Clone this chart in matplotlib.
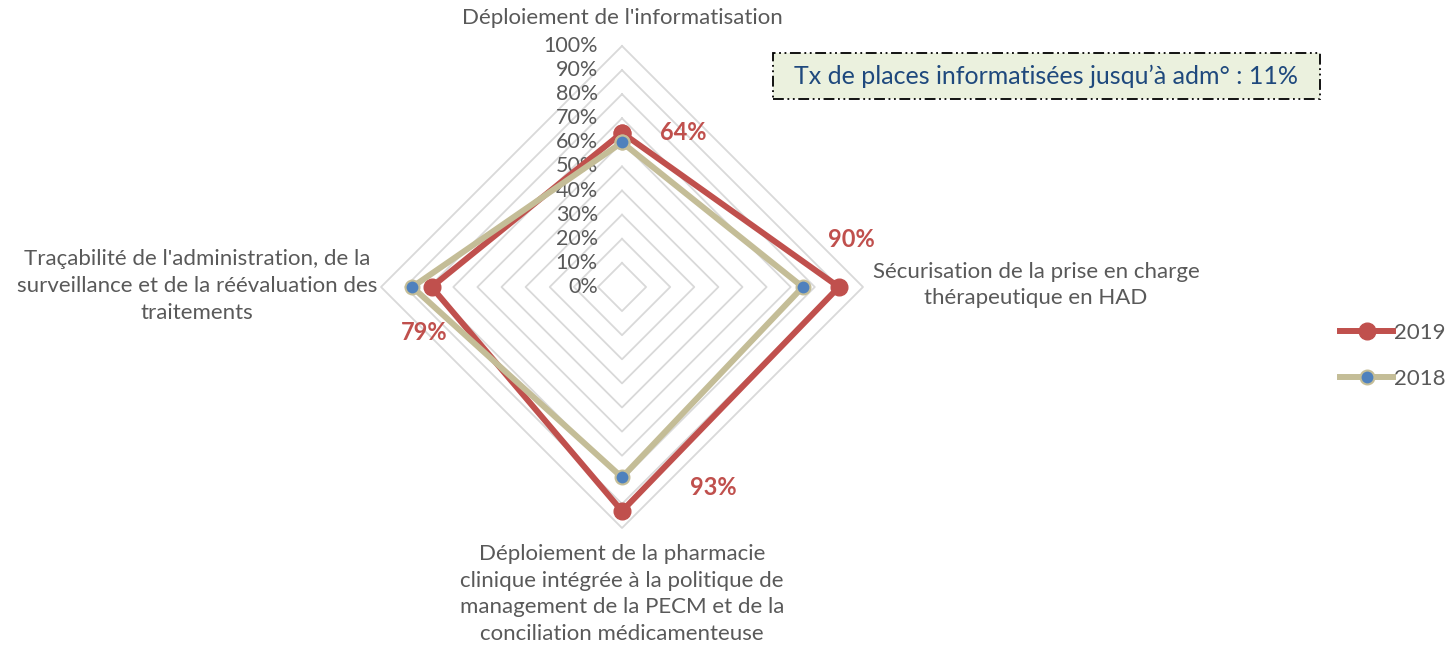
import numpy as np
import matplotlib.pyplot as plt
from matplotlib.patches import FancyBboxPatch

plt.rcParams['font.family'] = ['Lato', 'DejaVu Sans']

categories = [
    "Déploiement de l'informatisation",
    "Sécurisation de la prise en charge\nthérapeutique en HAD",
    "Déploiement de la pharmacie\nclinique intégrée à la politique de\nmanagement de la PECM et de la\nconciliation médicamenteuse",
    "Traçabilité de l'administration, de la\nsurveillance et de la réévaluation des\ntraitements",
]
values_2019 = [0.64, 0.90, 0.93, 0.79]
values_2018 = [0.60, 0.75, 0.79, 0.87]
ticks = [0.0, 0.1, 0.2, 0.3, 0.4, 0.5, 0.6, 0.7, 0.8, 0.9, 1.0]
note = "Tx de places informatisées jusqu’à adm° : 11%"

RED = '#C0504D'
TAN = '#C4BD97'
BLUE = '#4F81BD'
GREY = '#595959'
GRID = '#D9D9D9'

W, H = 1452, 651
fig = plt.figure(figsize=(W / 100, H / 100), dpi=100)

# square axes centred on the radar centre
cx, cy, R = 622, 287, 241
half = 1.1 * R
ax = fig.add_axes([(cx - half) / W, (H - cy - half) / H, 2 * half / W, 2 * half / H])
ax.set_xlim(-1.1, 1.1)
ax.set_ylim(-1.1, 1.1)
ax.set_aspect('equal')
ax.axis('off')

angles = np.pi / 2 - np.arange(len(categories)) * 2 * np.pi / len(categories)


def xy(vals):
    vals = np.asarray(vals + vals[:1])
    a = np.append(angles, angles[0])
    return vals * np.cos(a), vals * np.sin(a)


# diamond grid rings
for t in ticks[1:]:
    gx, gy = xy([t] * len(categories))
    ax.plot(gx, gy, color=GRID, lw=1.3, zorder=1)

# radial tick labels
for t in ticks:
    ax.text(-0.1, t, f"{int(round(t * 100))}%", ha='right', va='center',
            fontsize=15.5, color=GREY)

x19, y19 = xy(values_2019)
x18, y18 = xy(values_2018)
l19, = ax.plot(x19, y19, color=RED, lw=4.3, marker='o', ms=12,
               mfc=RED, mec=RED, label='2019', zorder=3, solid_joinstyle='miter')
l18, = ax.plot(x18, y18, color=TAN, lw=4.3, marker='o', ms=10,
               mfc=BLUE, mec=TAN, mew=1.5, label='2018', zorder=4, solid_joinstyle='miter')

# value labels for 2019
offsets = [(44, 0), (9, 34), (66, 17), (-5, -33)]
for v, a, off in zip(values_2019, angles, offsets):
    ax.annotate(f"{int(round(v * 100))}%", (v * np.cos(a), v * np.sin(a)),
                xytext=off, textcoords='offset points', ha='center', va='center',
                fontsize=17, fontweight='bold', color=RED)

# category labels
label_pos = [(622, 18), (1036, 285), (622, 594), (197, 286)]
for lab, (px, py) in zip(categories, label_pos):
    fig.text(px / W, 1 - py / H, lab, ha='center', va='center', fontsize=16,
             color=GREY, linespacing=1.42)

# note box
bx0, by0, bx1, by1 = 773, 53, 1320, 99
box = FancyBboxPatch((bx0 / W, 1 - by1 / H), (bx1 - bx0) / W, (by1 - by0) / H,
                     boxstyle='square,pad=0', transform=fig.transFigure,
                     facecolor='#EBF1DE', edgecolor='black', lw=1.3,
                     linestyle=(0, (6, 2, 1, 2, 1, 2)))
fig.patches.append(box)
fig.text((bx0 + bx1) / 2 / W, 1 - (by0 + by1) / 2 / H, note, ha='center',
         va='center', fontsize=18, color='#1F497D')

fig.legend(handles=[l19, l18], loc='center left',
           bbox_to_anchor=(1320 / W, 1 - 356 / H), frameon=False,
           fontsize=16, handlelength=2.4, handletextpad=0.05,
           labelspacing=1.15, labelcolor=GREY, numpoints=1)

fig.savefig('out.png', dpi=100)
